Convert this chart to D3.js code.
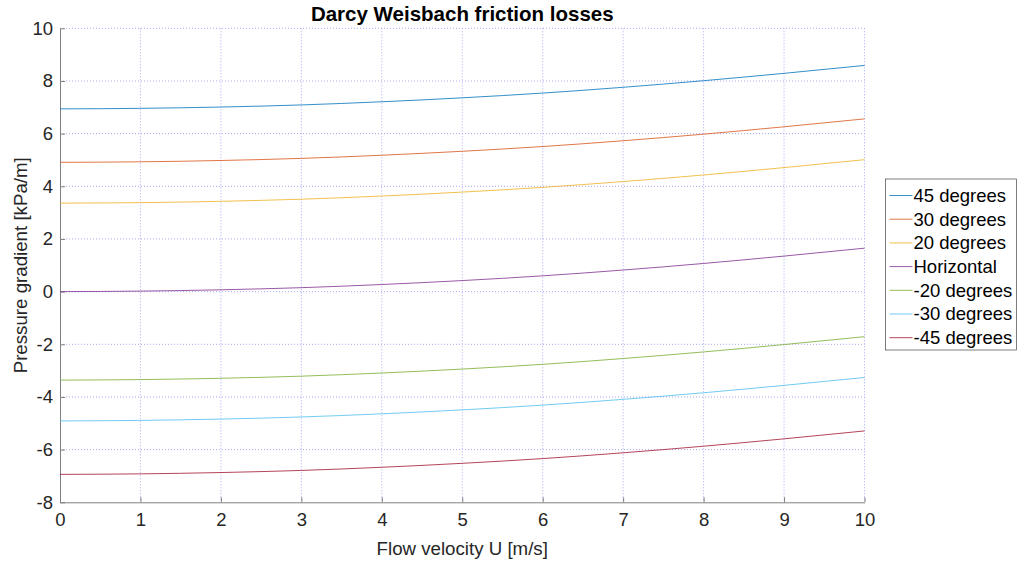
<!DOCTYPE html>
<html>
<head>
<meta charset="utf-8">
<script src="https://cdn.jsdelivr.net/npm/d3@7"></script>
<style>
  body { margin: 0; background: #fff; }
  svg { font-family: 'Liberation Sans', Arial, sans-serif; }
</style>
</head>
<body>
<svg id="chart" width="1017" height="563"></svg>
<script>
// ---------- DATA ----------
const velocity = [0, 1, 2, 3, 4, 5, 6, 7, 8, 9, 10];
const seriesNames = ['45 degrees', '30 degrees', '20 degrees', 'Horizontal', '-20 degrees', '-30 degrees', '-45 degrees'];
const seriesColors = ['#0072BD', '#D95319', '#EDB120', '#7E2F8E', '#77AC30', '#4DBEEE', '#A2142F'];
const deg45 = [6.94, 6.96, 7.01, 7.09, 7.21, 7.36, 7.54, 7.76, 8.01, 8.29, 8.59];
const deg30 = [4.91, 4.93, 4.98, 5.06, 5.18, 5.33, 5.51, 5.73, 5.98, 6.26, 6.56];
const deg20 = [3.36, 3.38, 3.43, 3.51, 3.63, 3.78, 3.96, 4.18, 4.43, 4.71, 5.01];
const horizontal = [0, 0.02, 0.07, 0.15, 0.27, 0.42, 0.60, 0.82, 1.07, 1.35, 1.65];
const degM20 = [-3.36, -3.34, -3.29, -3.21, -3.09, -2.94, -2.76, -2.54, -2.29, -2.01, -1.71];
const degM30 = [-4.91, -4.89, -4.84, -4.76, -4.64, -4.49, -4.31, -4.09, -3.84, -3.56, -3.26];
const degM45 = [-6.94, -6.92, -6.87, -6.79, -6.67, -6.52, -6.34, -6.12, -5.87, -5.59, -5.29];
const xTicks = [0, 1, 2, 3, 4, 5, 6, 7, 8, 9, 10];
const yTicks = [-8, -6, -4, -2, 0, 2, 4, 6, 8, 10];

const allSeries = [deg45, deg30, deg20, horizontal, degM20, degM30, degM45];

// ---------- LAYOUT ----------
const svg = d3.select('#chart');
const margin = { top: 28.3, right: 152.5, bottom: 60.7, left: 60 };
const width = 1017 - margin.left - margin.right;
const height = 563 - margin.top - margin.bottom;

const g = svg.append('g')
  .attr('transform', `translate(${margin.left},${margin.top})`);

const x = d3.scaleLinear().domain([0, 10]).range([0, width]);
const y = d3.scaleLinear().domain([-8, 10]).range([height, 0]);

// grid
const gridColor = '#a8a8f5';
g.append('g').selectAll('line')
  .data(xTicks.filter((d) => d > 0))
  .join('line')
  .attr('x1', (d) => x(d)).attr('x2', (d) => x(d))
  .attr('y1', 0).attr('y2', height)
  .attr('stroke', gridColor).attr('stroke-dasharray', '1,2');
g.append('g').selectAll('line')
  .data(yTicks.filter((d) => d > -8))
  .join('line')
  .attr('x1', 0).attr('x2', width)
  .attr('y1', (d) => y(d)).attr('y2', (d) => y(d))
  .attr('stroke', gridColor).attr('stroke-dasharray', '1,2');

// axes (plain hyphen for negatives, like the original)
const fmt = (d) => String(d);
const xAxis = g.append('g')
  .attr('transform', `translate(0,${height})`)
  .call(d3.axisBottom(x).tickValues(xTicks).tickFormat(fmt).tickSizeInner(-5).tickSizeOuter(0).tickPadding(11));
const yAxis = g.append('g')
  .call(d3.axisLeft(y).tickValues(yTicks).tickFormat(fmt).tickSizeInner(-5).tickSizeOuter(0).tickPadding(7));

[xAxis, yAxis].forEach((ax) => {
  ax.select('.domain').attr('stroke', '#808080').attr('stroke-width', 1);
  ax.selectAll('.tick line').attr('stroke', '#808080');
  ax.selectAll('.tick text')
    .attr('fill', '#262626')
    .style('font-size', '18.5px')
    .style('font-family', 'Liberation Sans, Arial, sans-serif');
});

// lines
const line = d3.line()
  .x((d, i) => x(velocity[i]))
  .y((d) => y(d))
  .curve(d3.curveMonotoneX);

g.append('g').selectAll('path')
  .data(allSeries)
  .join('path')
  .attr('fill', 'none')
  .attr('stroke', (d, i) => seriesColors[i])
  .attr('stroke-width', 0.8)
  .attr('d', line);

// title & labels
svg.append('text')
  .attr('x', margin.left + width / 2).attr('y', 21)
  .attr('text-anchor', 'middle')
  .attr('font-weight', 'bold')
  .attr('font-size', 20.5)
  .attr('fill', '#000')
  .text('Darcy Weisbach friction losses');

svg.append('text')
  .attr('x', margin.left + width / 2).attr('y', 555)
  .attr('text-anchor', 'middle')
  .attr('font-size', 18.7)
  .attr('fill', '#262626')
  .text('Flow velocity U [m/s]');

svg.append('text')
  .attr('transform', `translate(27,${margin.top + height / 2}) rotate(-90)`)
  .attr('text-anchor', 'middle')
  .attr('font-size', 18.7)
  .attr('fill', '#262626')
  .text('Pressure gradient [kPa/m]');

// legend
const legend = svg.append('g').attr('transform', 'translate(885.5,179)');
legend.append('rect')
  .attr('width', 131).attr('height', 171)
  .attr('fill', '#fff').attr('stroke', '#262626').attr('stroke-width', 0.6);
const rows = legend.selectAll('g.row')
  .data(seriesNames)
  .join('g')
  .attr('class', 'row')
  .attr('transform', (d, i) => `translate(0,${16.5 + i * 23.7})`);
rows.append('line')
  .attr('x1', 4).attr('x2', 27)
  .attr('stroke', (d, i) => seriesColors[i]).attr('stroke-width', 0.8);
rows.append('text')
  .attr('x', 28).attr('dy', '0.35em')
  .attr('font-size', 18.5)
  .attr('fill', '#000')
  .text((d) => d);
</script>
</body>
</html>
